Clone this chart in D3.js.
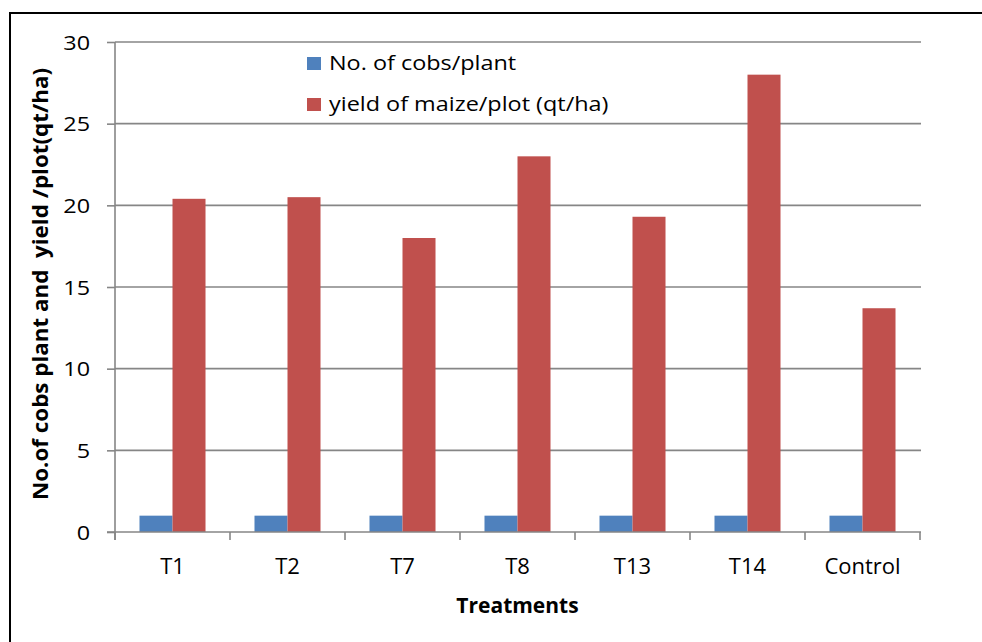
<!DOCTYPE html>
<html>
<head>
<meta charset="utf-8">
<script src="https://cdn.jsdelivr.net/npm/d3@7"></script>
<style>
  html, body { margin: 0; padding: 0; background: #fff; }
  svg { display: block; }
  text { font-family: "Open Sans", "DejaVu Sans", sans-serif; fill: #000; }
</style>
</head>
<body>
<svg id="chart" width="982" height="642"></svg>
<script>
// Treatments on the x axis
const categories = ["T1", "T2", "T7", "T8", "T13", "T14", "Control"];
// Series names and values
const seriesNames = ["No. of cobs/plant", "yield of maize/plot (qt/ha)"];
const cobsPerPlant = [1, 1, 1, 1, 1, 1, 1];
const yieldPerPlot = [20.4, 20.5, 18.0, 23.0, 19.3, 28.0, 13.7];
const seriesColors = ["#4F81BD", "#C0504D"];
// y axis ticks
const yTicks = [0, 5, 10, 15, 20, 25, 30];

const xTitle = "Treatments";
const yTitle = "No.of cobs plant and  yield /plot(qt/ha)";

const svg = d3.select("#chart");
const W = 982, H = 642;
const plot = { left: 115, right: 920, top: 42, bottom: 532 };
const gridColor = "#868686";
const SX = 1.17; // horizontal stretch of the labelling font

// stretch a text element horizontally by a factor
function stretch(sel, f) {
  sel.each(function () {
    const len = this.getComputedTextLength();
    d3.select(this).attr("textLength", len * f).attr("lengthAdjust", "spacingAndGlyphs");
  });
}

svg.append("rect").attr("width", W).attr("height", H).attr("fill", "#fff");

// frame round the chart (left and top edges)
svg.append("path")
  .attr("d", `M10,${H} L10,13 L${W},13`)
  .attr("fill", "none").attr("stroke", "#000").attr("stroke-width", 2);

const x = d3.scaleBand().domain(categories).range([plot.left, plot.right]).paddingInner(0).paddingOuter(0);
const x1 = d3.scaleBand().domain(seriesNames).range([0, x.bandwidth()]).paddingInner(0).paddingOuter(0.742);
const y = d3.scaleLinear().domain([0, 30]).range([plot.bottom, plot.top]);

// horizontal gridlines
svg.append("g").selectAll("line").data(yTicks.filter(d => d > 0)).join("line")
  .attr("x1", plot.left).attr("x2", plot.right + 1)
  .attr("y1", d => y(d)).attr("y2", d => y(d))
  .attr("stroke", gridColor).attr("stroke-width", 1.6);

// bars
const rows = categories.map((c, i) => ({ cat: c, vals: [cobsPerPlant[i], yieldPerPlot[i]] }));
const groups = svg.append("g").selectAll("g").data(rows).join("g")
  .attr("transform", d => `translate(${x(d.cat)},0)`);
groups.selectAll("rect").data(d => d.vals.map((v, k) => ({ v, k }))).join("rect")
  .attr("x", d => x1(seriesNames[d.k]))
  .attr("width", x1.bandwidth())
  .attr("y", d => y(d.v))
  .attr("height", d => y(0) - y(d.v))
  .attr("fill", d => seriesColors[d.k]);

// y axis
const yAxis = svg.append("g").attr("transform", `translate(${plot.left},0)`)
  .call(d3.axisLeft(y).tickValues(yTicks).tickSize(8).tickSizeOuter(0).tickPadding(17));
yAxis.select(".domain").attr("stroke", gridColor).attr("stroke-width", 1.6)
  .attr("d", `M0,${plot.top}V${plot.bottom + 8}`);
yAxis.selectAll(".tick line").attr("stroke", gridColor).attr("stroke-width", 1.6);
yAxis.selectAll(".tick text")
  .attr("font-family", '"Open Sans", sans-serif').attr("font-size", 20)
  .attr("dy", "0.35em").attr("fill", "#000")
  .call(stretch, SX);

// x axis: baseline with ticks on the category boundaries
const xAxis = svg.append("g").attr("transform", `translate(0,${plot.bottom})`);
xAxis.append("line").attr("x1", plot.left - 8).attr("x2", plot.right + 1)
  .attr("stroke", gridColor).attr("stroke-width", 1.6);
const bounds = categories.map(c => x(c)).concat([x(categories[categories.length - 1]) + x.bandwidth()]);
xAxis.selectAll("line.tk").data(bounds).join("line").attr("class", "tk")
  .attr("x1", d => d).attr("x2", d => d).attr("y1", 0).attr("y2", 8)
  .attr("stroke", gridColor).attr("stroke-width", 1.6);
xAxis.selectAll("text").data(categories).join("text")
  .attr("x", d => x(d) + x.bandwidth() / 2).attr("y", 42)
  .attr("text-anchor", "middle").attr("font-size", 22).text(d => d);

// axis titles
svg.append("text").attr("x", (plot.left + plot.right) / 2).attr("y", 613)
  .attr("text-anchor", "middle").attr("font-size", 21).attr("font-weight", "bold")
  .text(xTitle);
svg.append("text")
  .attr("transform", `translate(48,284) rotate(-90)`)
  .attr("text-anchor", "middle").attr("font-size", 21).attr("font-weight", "bold")
  .style("white-space", "pre")
  .attr("textLength", 432).attr("lengthAdjust", "spacingAndGlyphs")
  .text(yTitle);

// legend
const legend = svg.append("g");
seriesNames.forEach((name, i) => {
  const yy = 57 + i * 41;
  legend.append("rect").attr("x", 307).attr("y", yy).attr("width", 14).attr("height", 13)
    .attr("fill", seriesColors[i]);
  legend.append("text").attr("x", 329).attr("y", yy + 13).attr("font-size", 20)
    .text(name).call(stretch, SX);
});
</script>
</body>
</html>
